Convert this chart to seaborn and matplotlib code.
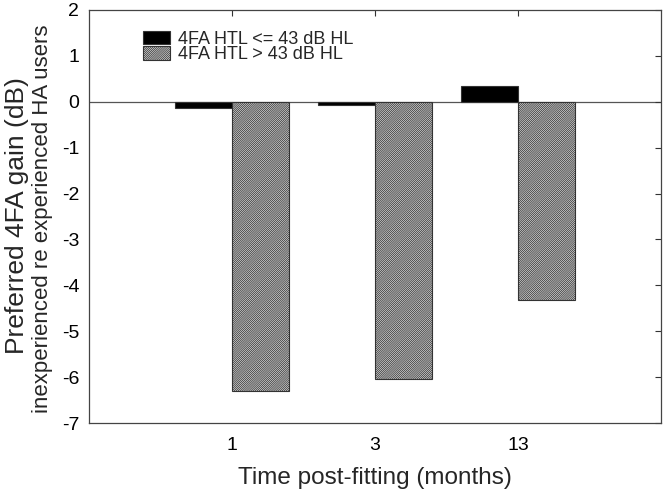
import matplotlib
matplotlib.use("Agg")
import matplotlib.pyplot as plt
import seaborn as sns
import pandas as pd

months = ["1", "3", "13"]
low_htl = [-0.13, -0.08, 0.35]
high_htl = [-6.3, -6.05, -4.32]
groups = ["4FA HTL <= 43 dB HL", "4FA HTL > 43 dB HL"]

df = pd.DataFrame({
    "time": months * 2,
    "gain": low_htl + high_htl,
    "group": [groups[0]] * 3 + [groups[1]] * 3,
})

sns.set_style("white")
plt.rcParams["font.family"] = ["Liberation Sans", "DejaVu Sans"]
plt.rcParams["axes.unicode_minus"] = False
plt.rcParams["hatch.color"] = "#505050"
plt.rcParams["hatch.linewidth"] = 0.55

fig = plt.figure(figsize=(6.66, 4.92), dpi=100)
ax = fig.add_axes([0.1336, 0.140, 0.8589, 0.840])

sns.barplot(data=df, x="time", y="gain", hue="group", order=months,
            hue_order=groups, palette=["black", "#e0e0e0"],
            width=0.8, saturation=1, legend=False, ax=ax,
            edgecolor="#333333", linewidth=0.8)

for bar in ax.containers[1]:
    bar.set_hatch("/" * 16)

ax.axhline(0, color="#555555", linewidth=0.9, zorder=0)
ax.set_xlim(-1, 3)
ax.set_ylim(-7, 2)
ax.set_yticks(range(-7, 3))
ax.tick_params(direction="in", length=4, width=0.8, labelsize=14,
               top=True, right=True, colors="#333333", labelcolor="black")
ax.tick_params(axis="x", pad=10)
ax.tick_params(axis="y", pad=7)
for s in ax.spines.values():
    s.set_visible(True)
    s.set_color("#444444")
    s.set_linewidth(0.9)

ax.set_xlabel("Time post-fitting (months)", fontsize=17.5, labelpad=9)
ax.set_ylabel("")
fig.text(0.025, 0.561, "Preferred 4FA gain (dB)", rotation=90, fontsize=19,
         ha="center", va="center")
fig.text(0.064, 0.555, "inexperienced re experienced HA users", rotation=90,
         fontsize=16, ha="center", va="center")

leg = ax.legend(handles=[ax.containers[0][0], ax.containers[1][0]], labels=groups,
                loc="upper left", bbox_to_anchor=(0.094, 0.95), frameon=False,
                fontsize=13, handlelength=1.5, handleheight=0.78,
                handletextpad=0.45, labelspacing=-0.08, borderpad=0,
                borderaxespad=0)

fig.savefig("out.png", dpi=100)
